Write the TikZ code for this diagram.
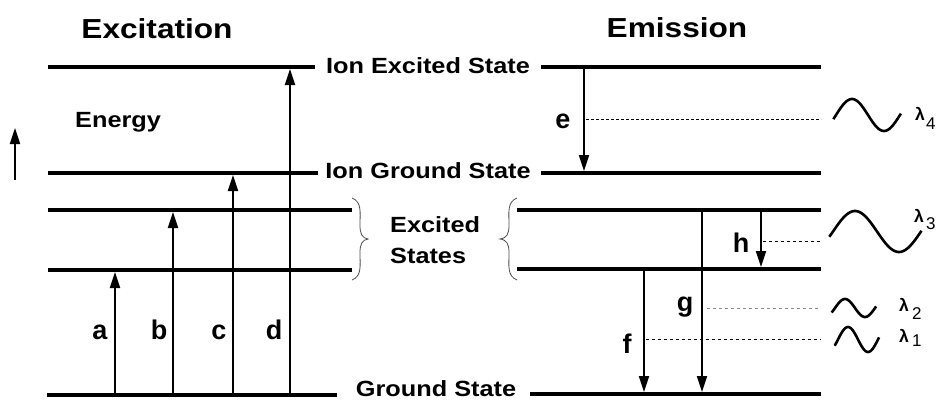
\documentclass[tikz,border=0pt]{standalone}
\usepackage{fontspec}
\setmainfont{Liberation Sans}[FakeStretch=1.15]
\newfontfamily\letterfont{Liberation Sans}
\usetikzlibrary{arrows.meta}
\tikzset{
  level/.style={line width=4pt},
  arr/.style={line width=1.8pt,-{Triangle[length=16pt,width=10pt]}},
  lab/.style={font=\fontsize{22}{24}\selectfont\bfseries,inner sep=0pt,anchor=base},
  ttl/.style={font=\fontsize{27.5}{30}\selectfont\bfseries,inner sep=0pt,anchor=base},
  ltr/.style={font=\letterfont\fontsize{27}{30}\selectfont\bfseries,inner sep=0pt,anchor=base},
  lam/.style={font=\letterfont\fontsize{17.5}{19}\selectfont\bfseries,inner sep=0pt,anchor=base west},
  dig/.style={font=\letterfont\fontsize{17}{19}\selectfont,inner sep=0pt,anchor=base west},
  dsh/.style={dash pattern=on 3pt off 3pt,line width=0.9pt},
  wave/.style={line width=2.6pt},
  brc/.style={line width=0.8pt,draw=black!70}
}
\begin{document}
\begin{tikzpicture}[x=1pt,y=-1pt]
\useasboundingbox (0,0) rectangle (945,399);
% titles
\node[ttl] (t1) at (157,38) {Excitation};
\node[ttl] (t2) at (677,37) {Emission};
\node[lab,anchor=base west] (en) at (75,127) {Energy};
% energy arrow
\coordinate (ea0) at (15,180);
\coordinate (ea1) at (15,128);
\draw[arr] (ea0) -- (ea1);
% level labels
\node[lab] (ies) at (428,73) {Ion Excited State};
\node[lab] (igs) at (428,178) {Ion Ground State};
\node[lab] (gs) at (436,396) {Ground State};
\node[lab,anchor=base west] (ex1) at (390,232) {Excited};
\node[lab,anchor=base west] (ex2) at (390,263) {States};
% left levels
\coordinate (L1a) at (48,67);  \coordinate (L1b) at (315,67);
\coordinate (L2a) at (48,173); \coordinate (L2b) at (318,173);
\coordinate (L3a) at (48,210); \coordinate (L3b) at (352,210);
\coordinate (L4a) at (48,270); \coordinate (L4b) at (352,270);
\coordinate (L5a) at (47,395); \coordinate (L5b) at (337,395);
\foreach \i in {1,...,5} \draw[level] (L\i a) -- (L\i b);
% right levels
\coordinate (R1a) at (541,67);  \coordinate (R1b) at (821,67);
\coordinate (R2a) at (541,173); \coordinate (R2b) at (821,173);
\coordinate (R3a) at (517,210); \coordinate (R3b) at (821,210);
\coordinate (R4a) at (517,269); \coordinate (R4b) at (821,269);
\coordinate (R5a) at (530,394); \coordinate (R5b) at (821,394);
\foreach \i in {1,...,5} \draw[level] (R\i a) -- (R\i b);
% braces
\draw[brc] (352,198) .. controls (362,202) and (360,212) .. (360,225)
  .. controls (360,234) and (362,238) .. (368,239)
  .. controls (362,240) and (360,244) .. (360,253)
  .. controls (360,266) and (362,276) .. (352,280);
\draw[brc] (517,198) .. controls (507,202) and (509,212) .. (509,225)
  .. controls (509,234) and (507,238) .. (500,239)
  .. controls (507,240) and (509,244) .. (509,253)
  .. controls (509,266) and (507,276) .. (517,280);
% excitation arrows
\coordinate (a0) at (115,393); \coordinate (a1) at (115,272);
\coordinate (b0) at (173,393); \coordinate (b1) at (173,212);
\coordinate (c0) at (233,393); \coordinate (c1) at (233,175);
\coordinate (d0) at (290,393); \coordinate (d1) at (290,69);
\draw[arr] (a0) -- (a1);
\draw[arr] (b0) -- (b1);
\draw[arr] (c0) -- (c1);
\draw[arr] (d0) -- (d1);
\node[ltr] (la) at (100,339) {a};
\node[ltr] (lb) at (159,339) {b};
\node[ltr] (lc) at (219,339) {c};
\node[ltr] (ld) at (274,339) {d};
% emission arrows
\coordinate (e0) at (584,69);  \coordinate (e1) at (584,171);
\coordinate (f0) at (644,271); \coordinate (f1) at (644,392);
\coordinate (g0) at (702,212); \coordinate (g1) at (702,392);
\coordinate (h0) at (761,212); \coordinate (h1) at (761,267);
\draw[arr] (e0) -- (e1);
\draw[arr] (f0) -- (f1);
\draw[arr] (g0) -- (g1);
\draw[arr] (h0) -- (h1);
\node[ltr] (le) at (563,128) {e};
\node[ltr] (lf) at (627,353) {f};
\node[ltr] (lg) at (685,311) {g};
\node[ltr] (lh) at (741,252) {h};
% dashed photon lines
\coordinate (de0) at (586,119); \coordinate (de1) at (821,119);
\coordinate (dh0) at (763,241); \coordinate (dh1) at (821,241);
\coordinate (dg0) at (707,308); \coordinate (dg1) at (821,308);
\coordinate (df0) at (646,339); \coordinate (df1) at (821,339);
\draw[dash pattern=on 2.5pt off 2.5pt,line width=0.7pt] (de0) -- (de1);
\draw[dsh] (dh0) -- (dh1);
\draw[dsh,draw=black!45] (dg0) -- (dg1);
\draw[dsh] (df0) -- (df1);
% waves
\draw[wave] plot[domain=-15:365,samples=60,smooth] ({852+(\x-90)*32/180},{115-16*sin(\x)});
\draw[wave] plot[domain=-15:362,samples=60,smooth] ({855+(\x-90)*44/180},{231.5-20.5*sin(\x)});
\draw[wave] plot[domain=-30:370,samples=50,smooth] ({845+(\x-90)*20/180},{308-9*sin(\x)});
\draw[wave] plot[domain=-30:370,samples=50,smooth] ({848+(\x-90)*20/180},{339.5-12.5*sin(\x)});
% lambda labels
\node[lam] (l4) at (915,120) {λ};
\node[dig] (n4) at (926,129) {4};
\node[lam] (l3) at (914,222) {λ};
\node[dig] (n3) at (926,229) {3};
\node[lam] (l2) at (899,311) {λ};
\node[dig] (n2) at (912,319) {2};
\node[lam] (l1) at (899,342) {λ};
\node[dig] (n1) at (912,346) {1};
\end{tikzpicture}
\end{document}
